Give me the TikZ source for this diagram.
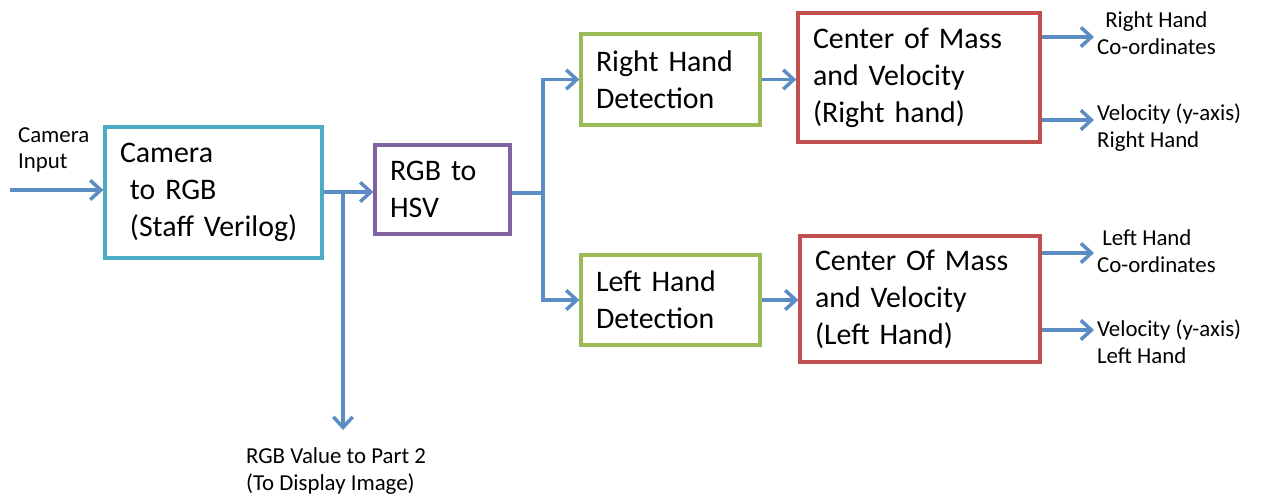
\documentclass[tikz,border=0pt]{standalone}
\usepackage{fontspec}
\setmainfont{Carlito}
\usepackage{xcolor}
\usetikzlibrary{arrows.meta}

\definecolor{aqua}{HTML}{4BACC6}
\definecolor{violet}{HTML}{8064A2}
\definecolor{olive}{HTML}{9BBB59}
\definecolor{brick}{HTML}{C0504D}
\definecolor{wire}{HTML}{5B8CC4}

\begin{document}
\begin{tikzpicture}[
    x=0.02cm, y=-0.02cm,
    block/.style={rectangle, draw=#1, line width=1.9pt, inner xsep=0.3cm, inner ysep=0pt,
      align=left, font=\fontsize{17}{21}\selectfont},
    lbl/.style={inner sep=1pt, font=\fontsize{13}{15}\selectfont},
    arr/.style={-{Straight Barb[length=6pt, width=11pt, line width=2pt]}, line width=2pt, draw=wire},
    wireline/.style={line width=2pt, draw=wire},
]
    \useasboundingbox (0,0) rectangle (1271,498);

    % processing blocks
    \node[block=aqua, minimum width=4.34cm, minimum height=2.62cm, text width=3.74cm] (cam) at (213.5,192.5)
        {Camera\\ ~to RGB\\ ~(Staff Verilog)};
    \node[block=violet, minimum width=2.7cm, minimum height=1.78cm, text width=2.1cm] (hsv) at (442.5,189.5)
        {RGB to\\HSV};
    \node[block=olive, minimum width=3.58cm, minimum height=1.82cm, text width=2.98cm] (rhd) at (670.5,79.5)
        {Right Hand\\Detection};
    \node[block=olive, minimum width=3.58cm, minimum height=1.8cm, text width=2.98cm] (lhd) at (670.5,300)
        {Left Hand\\Detection};
    \node[block=brick, minimum width=4.84cm, minimum height=2.58cm, text width=4.24cm] (comr) at (919,77.5)
        {Center of Mass\\and Velocity\\(Right hand)};
    \node[block=brick, minimum width=4.8cm, minimum height=2.52cm, text width=4.2cm] (coml) at (920,299)
        {Center Of Mass\\and Velocity\\(Left Hand)};

    % inputs and outputs
    \node[lbl, anchor=west, align=left] (camin) at (16,150) {Camera\\Input};
    \node[lbl, anchor=north west, align=left] (part2) at (244,446) {RGB Value to Part 2\\(To Display Image)};
    \node[lbl, anchor=north west, align=center] (rco) at (1095,10) {Right Hand\\Co-ordinates};
    \node[lbl, anchor=north west, align=left] (rvel) at (1095,102) {Velocity (y-axis)\\Right Hand};
    \node[lbl, anchor=north west, align=left] (lco) at (1095,228) {~Left Hand\\Co-ordinates};
    \node[lbl, anchor=north west, align=left] (lvel) at (1095,318) {Velocity (y-axis)\\Left Hand};

    \coordinate (src) at (10,190);
    \coordinate (tap) at (343,192);
    \coordinate (tapend) at (343,430);
    \coordinate (split) at (543,193);
    \coordinate (rcoend) at (1094,37);
    \coordinate (rvelend) at (1094,120);
    \coordinate (lcoend) at (1094,253);
    \coordinate (lvelend) at (1094,330);

    % connectors
    \draw[arr] (src) -- (src -| cam.west);
    \draw[arr] (cam.east |- tap) -- (tap -| hsv.west);
    \draw[arr] (tap) -- (tapend);
    \draw[wireline] (hsv.east |- split) -- (split);
    \draw[arr] (split) |- (rhd.west);
    \draw[arr] (split) |- (lhd.west);
    \draw[arr] (rhd.east) -- (rhd.east -| comr.west);
    \draw[arr] (lhd.east) -- (lhd.east -| coml.west);
    \draw[arr] (comr.east |- rcoend) -- (rcoend);
    \draw[arr] (comr.east |- rvelend) -- (rvelend);
    \draw[arr] (coml.east |- lcoend) -- (lcoend);
    \draw[arr] (coml.east |- lvelend) -- (lvelend);
\end{tikzpicture}
\end{document}
